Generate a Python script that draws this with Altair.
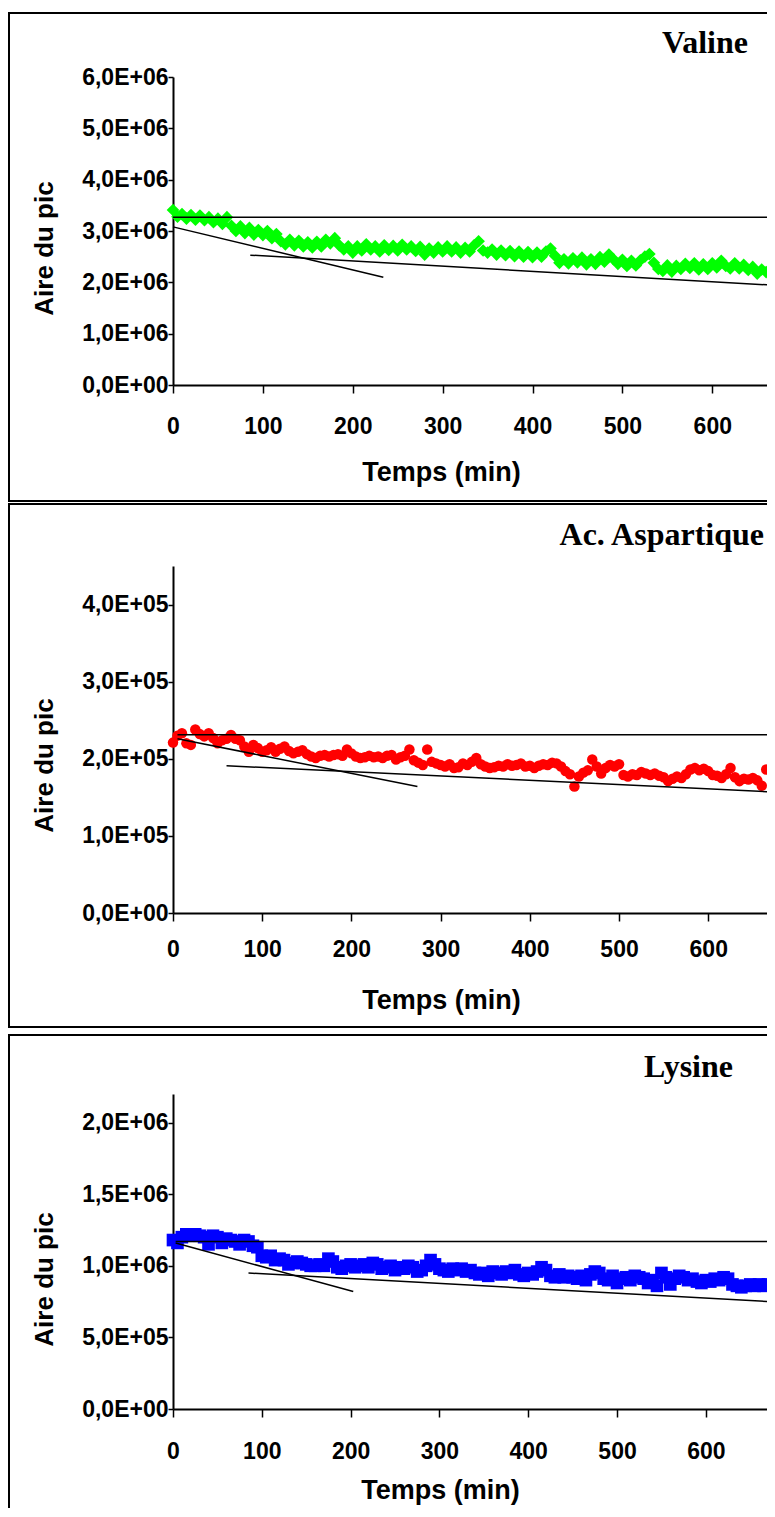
import altair as alt
import pandas as pd

# ---------------- data ----------------
STEP = 5  # sampling interval in minutes
TIME_TICKS = [0, 100, 200, 300, 400, 500, 600]

# Valine peak area (x 1e6)
valine_vals = [
    3.41, 3.28, 3.33, 3.24, 3.31, 3.22, 3.30, 3.21, 3.27, 3.17,
    3.24, 3.14, 3.27, 3.10, 3.00, 3.09, 2.96, 3.06, 2.93, 3.02,
    2.92, 3.00, 2.86, 2.94, 2.80, 2.74, 2.83, 2.72, 2.81, 2.70,
    2.78, 2.68, 2.79, 2.70, 2.83, 2.76, 2.86, 2.72, 2.64, 2.70,
    2.58, 2.70, 2.62, 2.74, 2.64, 2.70, 2.60, 2.72, 2.63, 2.71,
    2.62, 2.73, 2.64, 2.70, 2.61, 2.69, 2.54, 2.66, 2.58, 2.68,
    2.60, 2.70, 2.60, 2.68, 2.58, 2.67, 2.60, 2.72, 2.80, 2.62,
    2.58, 2.64, 2.54, 2.62, 2.53, 2.61, 2.51, 2.60, 2.50, 2.59,
    2.49, 2.58, 2.50, 2.60, 2.66, 2.52, 2.38, 2.45, 2.37, 2.47,
    2.39, 2.48, 2.35, 2.45, 2.36, 2.49, 2.40, 2.54, 2.45, 2.36,
    2.44, 2.32, 2.42, 2.33, 2.43, 2.50, 2.55, 2.38, 2.26, 2.22,
    2.33, 2.21, 2.32, 2.26, 2.36, 2.28, 2.37, 2.25, 2.35, 2.26,
    2.37, 2.29, 2.42, 2.32, 2.27, 2.37, 2.27, 2.34, 2.24, 2.30,
    2.17, 2.25, 2.20,
]

# Aspartic acid peak area (x 1e5)
asp_vals = [
    2.21, 2.30, 2.33, 2.20, 2.18, 2.38, 2.32, 2.29, 2.33, 2.27,
    2.20, 2.24, 2.26, 2.31, 2.26, 2.24, 2.16, 2.09, 2.18, 2.14,
    2.09, 2.11, 2.15, 2.09, 2.13, 2.16, 2.10, 2.07, 2.09, 2.11,
    2.06, 2.03, 2.01, 2.04, 2.05, 2.03, 2.05, 2.06, 2.04, 2.12,
    2.07, 2.03, 2.01, 2.02, 2.04, 2.02, 2.03, 2.01, 2.04, 2.05,
    1.99, 2.02, 2.04, 2.12, 1.98, 1.95, 1.92, 2.12, 1.96, 1.94,
    1.92, 1.90, 1.93, 1.88, 1.89, 1.94, 1.92, 1.96, 2.01, 1.93,
    1.90, 1.88, 1.89, 1.91, 1.90, 1.93, 1.91, 1.92, 1.94, 1.90,
    1.91, 1.88, 1.91, 1.93, 1.92, 1.95, 1.94, 1.90, 1.84, 1.80,
    1.64, 1.77, 1.82, 1.85, 1.99, 1.90, 1.81, 1.88, 1.92, 1.90,
    1.93, 1.79, 1.77, 1.80, 1.79, 1.83, 1.81, 1.79, 1.81, 1.78,
    1.76, 1.71, 1.74, 1.77, 1.75, 1.80, 1.86, 1.88, 1.85, 1.87,
    1.84, 1.79, 1.78, 1.75, 1.80, 1.88, 1.76, 1.71, 1.74, 1.73,
    1.75, 1.72, 1.65, 1.86,
]

# Lysine peak area (x 1e6)
lys_vals = [
    1.18, 1.16, 1.20, 1.22, 1.21, 1.22, 1.21, 1.20, 1.15, 1.21,
    1.20, 1.16, 1.19, 1.18, 1.17, 1.15, 1.18, 1.17, 1.14, 1.13,
    1.07, 1.06, 1.07, 1.04, 1.05, 1.04, 1.01, 1.02, 1.03, 1.02,
    1.01, 1.00, 1.00, 1.01, 1.00, 1.05, 1.03, 0.99, 0.98, 1.00,
    1.01, 0.99, 1.00, 1.01, 0.99, 1.02, 1.01, 0.98, 0.99, 1.00,
    0.97, 0.99, 0.98, 1.00, 0.99, 0.96, 0.97, 1.00, 1.04, 1.01,
    0.98, 0.97, 0.96, 0.98, 0.97, 0.98, 0.96, 0.97, 0.95, 0.94,
    0.95, 0.93, 0.96, 0.95, 0.94, 0.96, 0.95, 0.97, 0.94, 0.93,
    0.95, 0.94, 0.96, 0.99, 0.97, 0.93, 0.92, 0.94, 0.92, 0.93,
    0.92, 0.91, 0.93, 0.90, 0.94, 0.96, 0.95, 0.91, 0.90, 0.93,
    0.88, 0.91, 0.92, 0.90, 0.93, 0.92, 0.91, 0.88, 0.90, 0.86,
    0.95, 0.92, 0.87, 0.91, 0.93, 0.92, 0.90, 0.91, 0.89, 0.88,
    0.90, 0.89, 0.91, 0.90, 0.92, 0.91, 0.87, 0.86, 0.85, 0.86,
    0.87, 0.86, 0.87, 0.86, 0.87,
]

# Black guide lines drawn on each panel: start/end time and start/end value
valine_lines_t = [[0, 662], [0, 234], [86, 662]]
valine_lines_v = [[3.27, 3.27], [3.08, 2.10], [2.53, 1.95]]
asp_lines_t = [[5, 668], [5, 274], [60, 672]]
asp_lines_v = [[2.31, 2.31], [2.26, 1.64], [1.91, 1.57]]
lys_lines_t = [[3, 669], [3, 203], [85, 672]]
lys_lines_v = [[1.17, 1.17], [1.16, 0.82], [0.95, 0.75]]

LABEL_EXPR = "replace(replace(format(datum.value, '.1e'), '.', ','), 'e+', 'E+0')"
SANS = "Liberation Sans"
SERIF = "Liberation Serif"
W = 595


def panel(name, vals, unit, color, shape, size, lines_t, lines_v, xmax, ymax,
          yticks, height, name_x, name_y, name_align, ytitle_y, xlab_pad,
          xtitle_x, xtitle_y, box, extra_bottom=None):
    pts = pd.DataFrame({"t": [i * STEP for i in range(len(vals))],
                        "v": [v * unit for v in vals]})
    rows = []
    for k, (tt, vv) in enumerate(zip(lines_t, lines_v)):
        for a, b in zip(tt, vv):
            rows.append({"seg": k, "t": a, "v": b * unit})
    lines = pd.DataFrame(rows)

    x_axis = alt.Axis(
        title="Temps (min)", values=TIME_TICKS, grid=False,
        domainColor="black", domainWidth=2, tickColor="black", tickWidth=1.5,
        tickSize=8, labelFont=SANS, labelFontWeight="bold", labelFontSize=23,
        labelColor="black", labelBaseline="alphabetic", labelPadding=xlab_pad,
        labelFlush=False, titleFont=SANS, titleFontWeight="bold",
        titleFontSize=27, titleColor="black", titleX=xtitle_x, titleY=xtitle_y,
        titleBaseline="alphabetic", titleAlign="center",
    )
    y_axis = alt.Axis(
        title="Aire du pic", values=yticks, grid=False, labelExpr=LABEL_EXPR,
        domainColor="black", domainWidth=2, tickColor="black", tickWidth=1.5,
        tickSize=5, labelFont=SANS, labelFontWeight="bold", labelFontSize=23,
        labelColor="black", labelPadding=0, labelBaseline="middle",
        titleFont=SANS, titleFontWeight="bold", titleFontSize=26,
        titleColor="black", titleX=-121, titleY=ytitle_y, titleAngle=270,
        titleBaseline="alphabetic", titleAlign="center",
    )
    xenc = alt.X("t:Q", scale=alt.Scale(domain=[0, xmax], nice=False, zero=False), axis=x_axis)
    yenc = alt.Y("v:Q", scale=alt.Scale(domain=[0, ymax], nice=False), axis=y_axis)

    one = pd.DataFrame({"k": [0]})
    frame = alt.Chart(one).mark_rect(fillOpacity=0, stroke="black", strokeWidth=2).encode(
        x=alt.value(box[0]), x2=alt.value(box[1]), y=alt.value(box[2]), y2=alt.value(box[3]))
    layers = [frame]
    if extra_bottom is not None:
        layers.append(alt.Chart(one).mark_rect(opacity=0).encode(
            x=alt.value(0), x2=alt.value(10), y=alt.value(box[3] - 10), y2=alt.value(extra_bottom)))
    points = alt.Chart(pts).mark_point(shape=shape, filled=True, size=size, color=color, opacity=1).encode(
        x=xenc, y=yenc)
    fits = alt.Chart(lines).mark_line(color="black", strokeWidth=1.5).encode(
        x=xenc, y=yenc, detail="seg:N")
    label = alt.Chart(pd.DataFrame({"label": [name]})).mark_text(
        font=SERIF, fontWeight="bold", fontSize=32, color="black", align=name_align,
        baseline="alphabetic").encode(x=alt.value(name_x), y=alt.value(name_y), text="label:N")
    layers += [points, fits, label]
    return alt.layer(*layers).properties(width=W, height=height)


p1 = panel("Valine", valine_vals, 1e6, "#00ff00", "diamond", 160,
           valine_lines_t, valine_lines_v, 662, 6e6,
           [0, 1e6, 2e6, 3e6, 4e6, 5e6, 6e6], 308,
           575, -24, "right", 171, 40, 268, 95, (-164, 610, -64, 424))
p2 = panel("Ac. Aspartique", asp_vals, 1e5, "#ff0000", "circle", 110,
           asp_lines_t, asp_lines_v, 667, 4.5e5,
           [0, 1e5, 2e5, 3e5, 4e5], 347,
           591, -21, "right", 199, 35, 268, 95, (-164, 610, -62, 461), extra_bottom=467)
p3 = panel("Lysine", lys_vals, 1e6, "#0000ff", "square", 160,
           lys_lines_t, lys_lines_v, 670, 2.2e6,
           [0, 5e5, 1e6, 1.5e6, 2e6], 315,
           560, -17, "right", 185, 41, 267, 89, (-164, 610, -59, 425))

# negative right/bottom padding clips the outer frame at the window edge
chart = alt.vconcat(p1, p2, p3, spacing=1).properties(
    padding={"top": 4, "left": 0, "right": -17, "bottom": -12}
).configure_view(stroke=None)

chart.save("out.html", embed_options={"renderer": "svg", "actions": False})
